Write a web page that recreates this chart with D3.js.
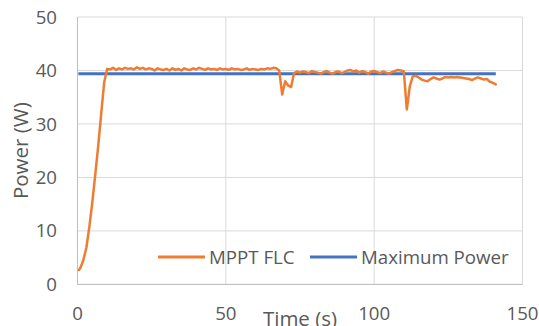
<!DOCTYPE html>
<html>
<head>
<meta charset="utf-8">
<script src="https://cdn.jsdelivr.net/npm/d3@7"></script>
<style>
  body { margin: 0; background: #fff; }
  svg { display: block; font-family: "Open Sans", sans-serif; }
</style>
</head>
<body>
<div id="chart"></div>
<script>
'use strict';

// Data
var times = [0.5, 1, 2, 3, 4, 5, 6, 7, 8, 9, 10, 11, 12, 13, 14, 15, 16, 17, 18, 19, 20,
  21, 22, 23, 24, 25, 26, 27, 28, 29, 30, 31, 32, 33, 34, 35, 36, 37, 38, 39, 40,
  41, 42, 43, 44, 45, 46, 47, 48, 49, 50, 51, 52, 53, 54, 55, 56, 57, 58, 59, 60,
  61, 62, 63, 64, 65, 66, 67, 68, 69, 70, 71, 72, 73, 74, 75, 76, 77, 78, 79, 80,
  81, 82, 83, 84, 85, 86, 87, 88, 89, 90, 91, 92, 93, 94, 95, 96, 97, 98, 99, 100,
  101, 102, 103, 104, 105, 106, 107, 108, 109, 110, 111, 112, 113, 114, 115, 116, 117, 118, 119, 120,
  121, 122, 123, 124, 125, 126, 127, 128, 129, 130, 131, 132, 133, 134, 135, 136, 137, 138, 139, 140, 141];
var mpptFlc = [2.7, 3.1, 4.6, 6.9, 10.8, 15.4, 20.6, 26.0, 32.0, 37.8, 40.3,
  40.2, 40.5, 40.1, 40.4, 40.2, 40.5, 40.3, 40.4, 40.2, 40.6,
  40.3, 40.5, 40.2, 40.4, 40.3, 40.0, 40.4, 40.2, 40.1, 40.3,
  40.0, 40.4, 40.1, 40.3, 40.0, 40.4, 40.2, 40.1, 40.4, 40.2,
  40.5, 40.3, 40.1, 40.4, 40.2, 40.3, 40.1, 40.4, 40.2, 40.3,
  40.1, 40.4, 40.2, 40.3, 40.1, 40.2, 40.4, 40.1, 40.3, 40.2,
  40.1, 40.3, 40.2, 40.4, 40.3, 40.5, 40.4, 40.0, 35.5, 38.0,
  37.2, 36.9, 39.5, 39.8, 39.6, 39.8, 39.7, 39.5, 39.9, 39.7,
  39.6, 39.4, 39.7, 39.9, 39.6, 39.4, 39.7, 39.8, 39.5, 39.7,
  40.0, 40.1, 39.8, 40.0, 39.6, 39.9, 39.7, 39.4, 39.8, 39.9,
  39.7, 39.5, 39.8, 39.6, 39.4, 39.7, 39.9, 40.1, 40.0, 39.8,
  32.7, 37.0, 38.9, 39.0, 38.7, 38.3, 38.1, 38.0, 38.4, 38.7,
  38.5, 38.3, 38.5, 38.8, 38.7, 38.8, 38.7, 38.8, 38.7, 38.6,
  38.5, 38.4, 38.2, 38.5, 38.7, 38.5, 38.3, 38.4, 37.9, 37.7, 37.4];
var maxPowerTimes = [0.3, 141];
var maxPower = [39.4, 39.4];
var xTicks = [0, 50, 100, 150];
var yTicks = [0, 10, 20, 30, 40, 50];
var seriesNames = ['MPPT FLC', 'Maximum Power'];
var seriesColors = ['#ED7D31', '#4472C4'];

var width = 539, height = 326;
var margin = { left: 77.5, right: 16.5, top: 17, bottom: 41.6 };

var x = d3.scaleLinear().domain([0, 150]).range([margin.left, width - margin.right]);
var y = d3.scaleLinear().domain([0, 50]).range([height - margin.bottom, margin.top]);

var svg = d3.select('#chart').append('svg').attr('width', width).attr('height', height);

// gridlines
svg.append('g').selectAll('line').data(yTicks).enter().append('line')
  .attr('x1', x(0)).attr('x2', x(150))
  .attr('y1', function (d) { return y(d); }).attr('y2', function (d) { return y(d); })
  .attr('stroke', '#d9d9d9').attr('stroke-width', 1);
svg.append('g').selectAll('line').data(xTicks).enter().append('line')
  .attr('y1', y(0)).attr('y2', y(50))
  .attr('x1', function (d) { return x(d); }).attr('x2', function (d) { return x(d); })
  .attr('stroke', '#d9d9d9').attr('stroke-width', 1);

// axis lines
svg.append('line').attr('x1', x(0)).attr('x2', x(0)).attr('y1', y(0)).attr('y2', y(50))
  .attr('stroke', '#bfbfbf');
svg.append('line').attr('x1', x(0)).attr('x2', x(150)).attr('y1', y(0)).attr('y2', y(0))
  .attr('stroke', '#bfbfbf');

// tick labels
svg.append('g').selectAll('text').data(yTicks).enter().append('text')
  .attr('x', 57).attr('y', function (d) { return y(d); })
  .attr('dy', '0.35em').attr('text-anchor', 'end')
  .style('font-size', '18.7px').style('fill', '#595959')
  .text(function (d) { return d; });
svg.append('g').selectAll('text').data(xTicks).enter().append('text')
  .attr('x', function (d) { return x(d); }).attr('y', 320)
  .attr('text-anchor', 'middle')
  .style('font-size', '18.7px').style('fill', '#595959')
  .text(function (d) { return d; });

// axis titles
svg.append('text').attr('x', x(75)).attr('y', 325.5).attr('text-anchor', 'middle')
  .style('font-size', '20.5px').style('fill', '#595959').text('Time (s)');
svg.append('text').attr('transform', 'translate(28.3,' + y(25) + ') rotate(-90)')
  .attr('text-anchor', 'middle')
  .style('font-size', '20.5px').style('fill', '#595959').text('Power (W)');

// series
var line = d3.line()
  .x(function (d) { return x(d[0]); })
  .y(function (d) { return y(d[1]); });

svg.append('path').datum(d3.zip(maxPowerTimes, maxPower))
  .attr('d', line).attr('fill', 'none')
  .attr('stroke', seriesColors[1]).attr('stroke-width', 3);

svg.append('path').datum(d3.zip(times, mpptFlc))
  .attr('d', line).attr('fill', 'none')
  .attr('stroke', seriesColors[0]).attr('stroke-width', 2.5)
  .attr('stroke-linejoin', 'round').attr('stroke-linecap', 'round');

// legend
var legendX = [158, 310];
var legend = svg.append('g').selectAll('g').data(seriesNames).enter().append('g')
  .attr('transform', function (d, i) { return 'translate(' + legendX[i] + ',257)'; });
legend.append('line').attr('x1', 0).attr('x2', 47).attr('y1', 0).attr('y2', 0)
  .attr('stroke', function (d, i) { return seriesColors[i]; }).attr('stroke-width', 3);
legend.append('text').attr('x', 51).attr('dy', '0.35em')
  .style('font-size', '18.7px').style('fill', '#595959')
  .text(function (d) { return d; });
</script>
</body>
</html>
